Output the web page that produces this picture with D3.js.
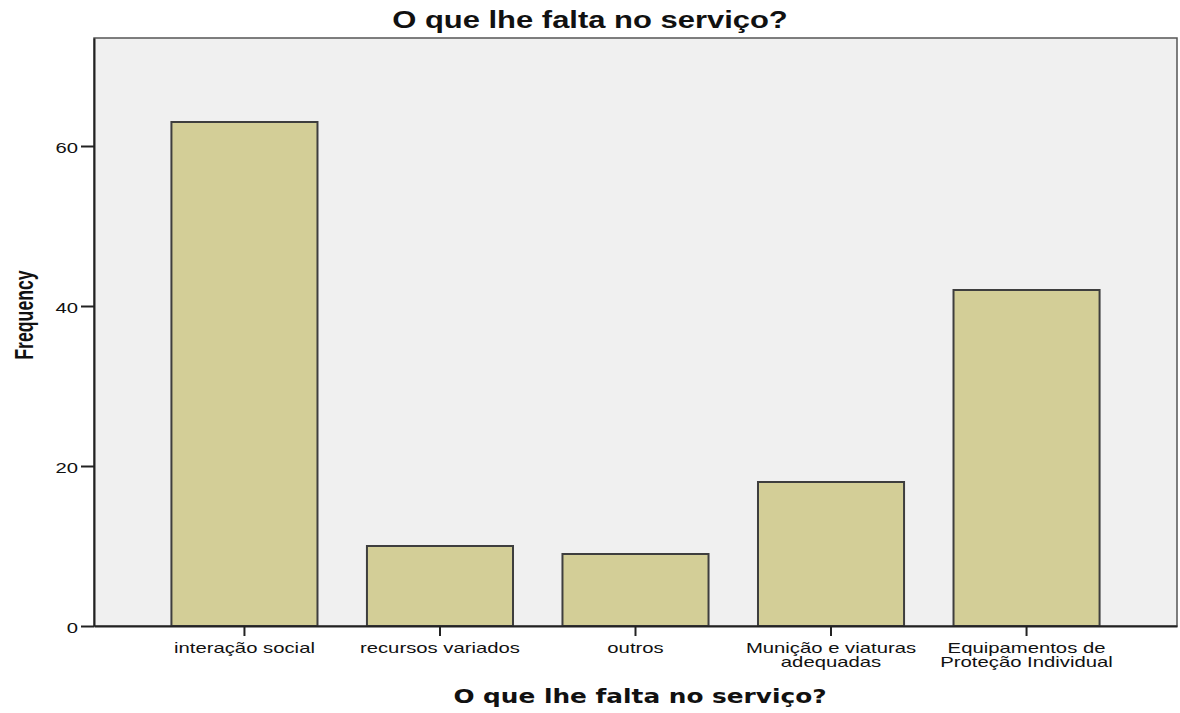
<!DOCTYPE html>
<html>
<head>
<meta charset="utf-8">
<script src="https://cdn.jsdelivr.net/npm/d3@7"></script>
<style>
  body { margin: 0; background: #fff; }
</style>
</head>
<body>
<div id="svg-area"></div>
<script>
// chart data
var categories = ["interação social", "recursos variados", "outros", "Munição e viaturas\nadequadas", "Equipamentos de\nProteção Individual"];
var frequencies = [63, 10, 9, 18, 42];
var yTicks = [0, 20, 40, 60];
var chartTitle = "O que lhe falta no serviço?";

var svgWidth = 1180;
var svgHeight = 713;

var chartMargin = { top: 38, right: 3, bottom: 87, left: 94 };
var chartWidth = svgWidth - chartMargin.left - chartMargin.right;
var chartHeight = svgHeight - chartMargin.top - chartMargin.bottom;

// the original uses a wide, stretched sans for tick labels
var labelFont = "Liberation Sans, Arial, sans-serif";
var labelStretch = 1.45;

var svg = d3.select("#svg-area")
  .append("svg")
  .attr("width", svgWidth)
  .attr("height", svgHeight);

var chartGroup = svg.append("g")
  .attr("transform", `translate(${chartMargin.left}, ${chartMargin.top})`);

// plot background
chartGroup.append("rect")
  .attr("width", chartWidth)
  .attr("height", chartHeight)
  .attr("fill", "#f0f0f0")
  .attr("stroke", "#555")
  .attr("stroke-width", 1.5);

var xBandScale = d3.scaleBand()
  .domain(categories)
  .range([0, chartWidth])
  .paddingInner(0.253)
  .paddingOuter(0.396);

var yLinearScale = d3.scaleLinear()
  .domain([0, 73.5])
  .range([chartHeight, 0]);

// bars
chartGroup.selectAll(".bar")
  .data(frequencies)
  .enter()
  .append("rect")
  .attr("class", "bar")
  .attr("x", (d, i) => xBandScale(categories[i]))
  .attr("y", d => yLinearScale(d))
  .attr("width", xBandScale.bandwidth())
  .attr("height", d => chartHeight - yLinearScale(d))
  .attr("fill", "#d3ce97")
  .attr("stroke", "#3e3e3e")
  .attr("stroke-width", 2);

// axes
var leftAxis = d3.axisLeft(yLinearScale).tickValues(yTicks).tickSize(13).tickSizeOuter(0);
var bottomAxis = d3.axisBottom(xBandScale).tickSize(10).tickSizeOuter(0).tickFormat("");

var yAxisG = chartGroup.append("g").call(leftAxis);
yAxisG.select(".domain").attr("stroke", "#222").attr("stroke-width", 2);
yAxisG.selectAll(".tick line").attr("stroke", "#222").attr("stroke-width", 2);
yAxisG.selectAll(".tick text")
  .attr("x", -16 / 1.35)
  .attr("dy", "0.45em")
  .attr("transform", "scale(1.35,1)")
  .attr("font-size", 15)
  .attr("font-family", labelFont)
  .attr("fill", "#111");

var xAxisG = chartGroup.append("g")
  .attr("transform", `translate(0, ${chartHeight})`)
  .call(bottomAxis);
xAxisG.select(".domain").attr("stroke", "#222").attr("stroke-width", 2);
xAxisG.selectAll(".tick line").attr("stroke", "#222").attr("stroke-width", 2);

// multi-line category labels
xAxisG.selectAll(".tick").each(function(d) {
  var lines = d.split("\n");
  var t = d3.select(this).append("text")
    .attr("text-anchor", "middle")
    .attr("transform", `scale(${labelStretch},1)`)
    .attr("font-size", 14)
    .attr("font-family", labelFont)
    .attr("fill", "#111");
  lines.forEach(function(line, k) {
    t.append("tspan")
      .attr("x", 0)
      .attr("y", 27 + k * 14.5)
      .text(line);
  });
});

// title
svg.append("text")
  .attr("transform", "translate(590, 28) scale(1.29,1)")
  .attr("text-anchor", "middle")
  .attr("font-family", labelFont)
  .attr("font-weight", "bold")
  .attr("font-size", 24)
  .attr("fill", "#111")
  .text(chartTitle);

// x axis title
svg.append("text")
  .attr("transform", "translate(640, 703) scale(1.24,1)")
  .attr("text-anchor", "middle")
  .attr("font-family", "DejaVu Sans, sans-serif")
  .attr("font-weight", "bold")
  .attr("font-size", 20)
  .attr("fill", "#111")
  .text(chartTitle);

// y axis title
svg.append("text")
  .attr("transform", `translate(33, 315) rotate(-90) scale(0.68,1)`)
  .attr("text-anchor", "middle")
  .attr("font-family", labelFont)
  .attr("font-weight", "bold")
  .attr("font-size", 26)
  .attr("fill", "#111")
  .text("Frequency");
</script>
</body>
</html>
